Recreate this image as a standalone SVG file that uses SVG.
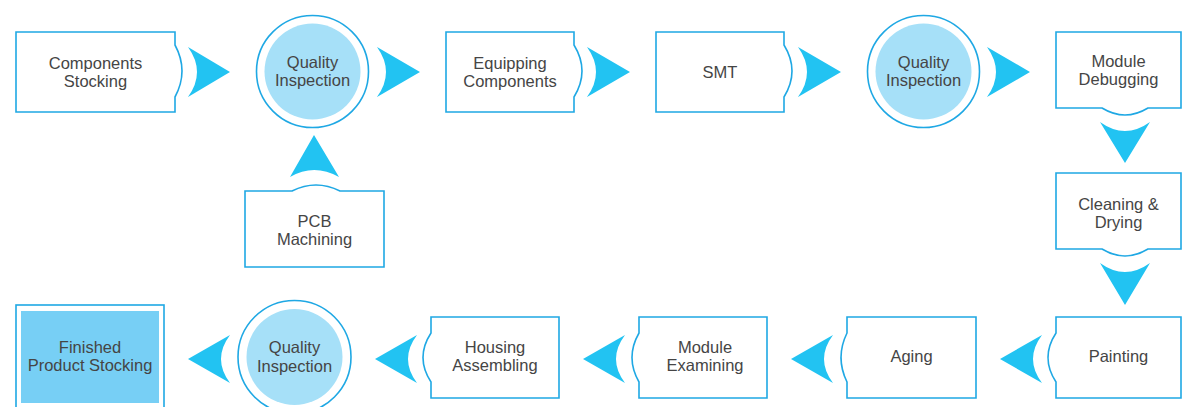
<svg xmlns="http://www.w3.org/2000/svg" width="1182" height="407" viewBox="0 0 1182 407">
<style>
.box{fill:#ffffff;stroke:#1fa8e4;stroke-width:1.6}
.arr{fill:#22c3f2}
.ring{fill:#ffffff;stroke:#1fa8e4;stroke-width:1.6}
.core{fill:#a6e0f8}
.fin{fill:#77cff5}
text{font-family:"Liberation Sans",Arial,sans-serif;font-size:16.5px;fill:#454545;text-anchor:middle}
</style>
<rect width="1182" height="407" fill="#ffffff"/>
<g id="connectors">
<path class="arr" d="M188,47 L230,72 L188,97 Q206,72 188,47 Z"/>
<path class="arr" d="M377,47 L420,72 L377,97 Q395,72 377,47 Z"/>
<path class="arr" d="M587,47 L630,72 L587,97 Q605,72 587,47 Z"/>
<path class="arr" d="M798,47 L841,72 L798,97 Q816,72 798,47 Z"/>
<path class="arr" d="M987,47 L1030,72 L987,97 Q1005,72 987,47 Z"/>
<path class="arr" d="M1100,122 L1125,163 L1150,122 Q1125,140 1100,122 Z"/>
<path class="arr" d="M1100,263 L1125,305 L1150,263 Q1125,281 1100,263 Z"/>
<path class="arr" d="M1042,335 L1000,359 L1042,383 Q1024,359 1042,335 Z"/>
<path class="arr" d="M833,335 L791,359 L833,383 Q815,359 833,335 Z"/>
<path class="arr" d="M625,335 L583,359 L625,383 Q607,359 625,335 Z"/>
<path class="arr" d="M417,335 L375,359 L417,383 Q399,359 417,335 Z"/>
<path class="arr" d="M230,335 L188,359 L230,383 Q212,359 230,335 Z"/>
<path class="arr" d="M290,177 L314,135 L339,177 Q314,163 290,177 Z"/>
</g>
<g id="components-stocking">
<path class="box" d="M16,32 H175 V45 Q189,71 175,97 V112 H16 Z"/>
<text x="95.5" y="69">Components</text><text x="95.5" y="87">Stocking</text>
</g>
<g id="quality-inspection-1">
<circle class="ring" cx="312.5" cy="71.5" r="56"/><circle class="core" cx="312.5" cy="71.5" r="48"/>
<text x="312.5" y="68">Quality</text><text x="312.5" y="86">Inspection</text>
</g>
<g id="pcb-machining">
<path class="box" d="M245,191 H292 Q316,179 340,191 H384 V267 H245 Z"/>
<text x="314.5" y="227">PCB</text><text x="314.5" y="245">Machining</text>
</g>
<g id="equipping-components">
<path class="box" d="M446,32 H574 V45 Q590,71 574,97 V112 H446 Z"/>
<text x="510" y="69">Equipping</text><text x="510" y="87">Components</text>
</g>
<g id="smt">
<path class="box" d="M656,32 H784 V45 Q800,71 784,97 V112 H656 Z"/>
<text x="720" y="78">SMT</text>
</g>
<g id="quality-inspection-2">
<circle class="ring" cx="923.5" cy="71.5" r="56"/><circle class="core" cx="923.5" cy="71.5" r="48"/>
<text x="923.5" y="68">Quality</text><text x="923.5" y="86">Inspection</text>
</g>
<g id="module-debugging">
<path class="box" d="M1056,32 H1181 V108 H1148 Q1125,122 1102,108 H1056 Z"/>
<text x="1118.5" y="67">Module</text><text x="1118.5" y="85">Debugging</text>
</g>
<g id="cleaning-drying">
<path class="box" d="M1056,173 H1181 V249 H1148 Q1125,263 1102,249 H1056 Z"/>
<text x="1118.5" y="210">Cleaning &amp;</text><text x="1118.5" y="228">Drying</text>
</g>
<g id="painting">
<path class="box" d="M1056,317 H1181 V398 H1056 V382 Q1040,357.5 1056,333 Z"/>
<text x="1118.5" y="362">Painting</text>
</g>
<g id="aging">
<path class="box" d="M847,317 H976 V398 H847 V382 Q835,357.5 847,333 Z"/>
<text x="911.5" y="362">Aging</text>
</g>
<g id="module-examining">
<path class="box" d="M639,317 H767 V398 H639 V382 Q625,357.5 639,333 Z"/>
<text x="705" y="353">Module</text><text x="705" y="371">Examining</text>
</g>
<g id="housing-assembling">
<path class="box" d="M431,317 H559 V398 H431 V382 Q415,357.5 431,333 Z"/>
<text x="495" y="353">Housing</text><text x="495" y="371">Assembling</text>
</g>
<g id="quality-inspection-3">
<circle class="ring" cx="294.5" cy="357" r="56.5"/><circle class="core" cx="294.5" cy="357" r="48"/>
<text x="294.5" y="353">Quality</text><text x="294.5" y="372">Inspection</text>
</g>
<g id="finished-product-stocking">
<rect class="box" x="16" y="305" width="148" height="112"/>
<rect class="fin" x="21" y="311" width="138" height="92"/>
<text x="90" y="353">Finished</text><text x="90" y="371">Product Stocking</text>
</g>
</svg>
